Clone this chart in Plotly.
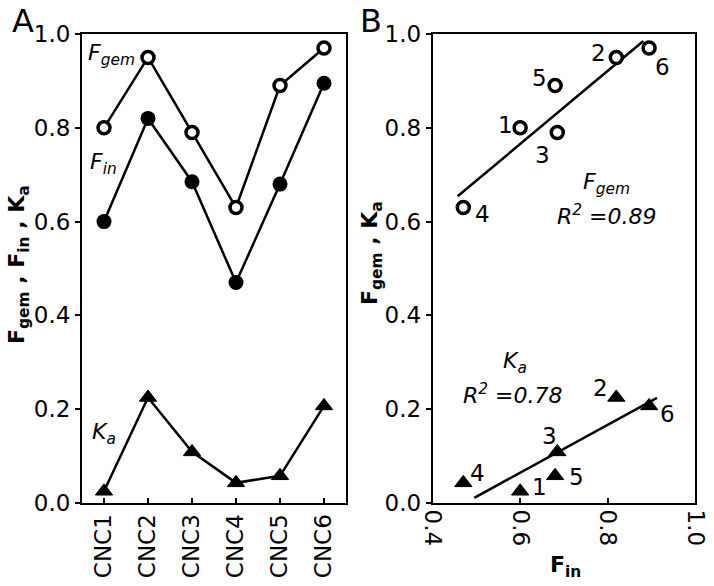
import plotly.graph_objects as go
from plotly.subplots import make_subplots

# data
samples = ['CNC1', 'CNC2', 'CNC3', 'CNC4', 'CNC5', 'CNC6']
sample_ids = ['1', '2', '3', '4', '5', '6']
f_gem = [0.80, 0.95, 0.79, 0.63, 0.89, 0.97]
f_in = [0.60, 0.82, 0.685, 0.47, 0.68, 0.895]
k_a = [0.025, 0.225, 0.109, 0.043, 0.058, 0.207]

# fitted lines (end points as drawn)
fgem_fit_x = [0.457, 0.882]
fgem_fit_y = [0.654, 0.985]
ka_fit_x = [0.495, 0.913]
ka_fit_y = [0.011, 0.224]

r2_fgem = '0.89'
r2_ka = '0.78'

FONT = 'DejaVu Sans'
LW = 2.5

open_circle = dict(symbol='circle', size=12, color='white', line=dict(color='black', width=3.5))
full_circle = dict(symbol='circle', size=15, color='black')
triangle = dict(symbol='triangle-up', size=15, color='black', line=dict(color='black', width=1))

fig = make_subplots(rows=1, cols=2)

# panel A
fig.add_trace(go.Scatter(x=samples, y=f_gem, mode='lines+markers', marker=open_circle,
                         line=dict(color='black', width=LW)), row=1, col=1)
fig.add_trace(go.Scatter(x=samples, y=f_in, mode='lines+markers', marker=full_circle,
                         line=dict(color='black', width=LW)), row=1, col=1)
fig.add_trace(go.Scatter(x=samples, y=k_a, mode='lines+markers', marker=triangle,
                         line=dict(color='black', width=LW)), row=1, col=1)

# panel B
fig.add_trace(go.Scatter(x=fgem_fit_x, y=fgem_fit_y, mode='lines',
                         line=dict(color='black', width=LW)), row=1, col=2)
fig.add_trace(go.Scatter(x=ka_fit_x, y=ka_fit_y, mode='lines',
                         line=dict(color='black', width=LW)), row=1, col=2)
fig.add_trace(go.Scatter(x=f_in, y=f_gem, mode='markers', marker=open_circle), row=1, col=2)
fig.add_trace(go.Scatter(x=f_in, y=k_a, mode='markers', marker=triangle), row=1, col=2)

axis_style = dict(showline=True, linecolor='black', linewidth=2, mirror=True, automargin=False,
                  showgrid=False, zeroline=False, ticklen=5, tickwidth=2, tickcolor='black',
                  tickfont=dict(family=FONT, size=23, color='black'))

fig.update_xaxes(axis_style)
fig.update_yaxes(axis_style)
fig.update_yaxes(range=[0, 1.0], dtick=0.2, tickformat='.1f', ticks='outside',
                 domain=[1 - 503 / 586, 1 - 34 / 586])
fig.update_xaxes(ticks='inside')
fig.update_xaxes(range=[-0.5, 5.5], tickangle=-90, domain=[82 / 714, 346 / 714], row=1, col=1)
fig.update_xaxes(range=[0.4, 1.0], dtick=0.2, tickformat='.1f', tickangle=90,
                 domain=[432.7 / 714, 695 / 714], row=1, col=2)

ann = []
# panel letters
ann.append(dict(text='A', x=10 / 714, y=1 - 21 / 586, xref='paper', yref='paper',
                xanchor='left', yanchor='middle', font=dict(size=32)))
ann.append(dict(text='B', x=358 / 714, y=1 - 21 / 586, xref='paper', yref='paper',
                xanchor='left', yanchor='middle', font=dict(size=32)))
# axis titles
ann.append(dict(text='<b>F<sub>gem</sub> , F<sub>in</sub> , K<sub>a</sub></b>', textangle=-90,
                x=18 / 714, y=1 - 265 / 586, xref='paper', yref='paper',
                xanchor='center', yanchor='middle', font=dict(size=22)))
ann.append(dict(text='<b>F<sub>gem</sub> , K<sub>a</sub></b>', textangle=-90,
                x=371 / 714, y=1 - 253 / 586, xref='paper', yref='paper',
                xanchor='center', yanchor='middle', font=dict(size=22)))
ann.append(dict(text='<b>F<sub>in</sub></b>', x=565 / 714, y=1 - 566 / 586,
                xref='paper', yref='paper', xanchor='center', yanchor='middle',
                font=dict(size=22)))

# series labels in A
for txt, xd, yd in [('<i>F<sub>gem</sub></i>', 0.015, 0.957),
                    ('<i>F<sub>in</sub></i>', 0.023, 0.723),
                    ('<i>K<sub>a</sub></i>', 0.030, 0.149)]:
    ann.append(dict(text=txt, x=xd, y=yd, xref='x domain', yref='y domain',
                    xanchor='left', yanchor='middle', font=dict(size=22)))

# labels in B
for txt, xd, yd in [('<i>F<sub>gem</sub></i>', 0.661, 0.682),
                    ('<i>R<sup>2</sup> =' + r2_fgem + '</i>', 0.663, 0.615),
                    ('<i>K<sub>a</sub></i>', 0.314, 0.299),
                    ('<i>R<sup>2</sup> =' + r2_ka + '</i>', 0.308, 0.232)]:
    ann.append(dict(text=txt, x=xd, y=yd, xref='x2 domain', yref='y2 domain',
                    xanchor='center', yanchor='middle', font=dict(size=22)))

# point numbers in B (pixel offsets from each point)
fgem_shift = [(-15, 3), (-18, 4), (-15, -23), (19, -6), (-16, 8), (13, -19)]
ka_shift = [(19, 4), (-16, 9), (-8, 16), (14, 10), (21, -1), (18, -8)]
for i, sid in enumerate(sample_ids):
    ann.append(dict(text=sid, x=f_in[i], y=f_gem[i], xref='x2', yref='y2',
                    xshift=fgem_shift[i][0], yshift=fgem_shift[i][1], font=dict(size=23)))
    ann.append(dict(text=sid, x=f_in[i], y=k_a[i], xref='x2', yref='y2',
                    xshift=ka_shift[i][0], yshift=ka_shift[i][1], font=dict(size=23)))

for a in ann:
    a['showarrow'] = False

fig.update_layout(
    width=714, height=586,
    margin=dict(l=0, r=0, t=0, b=0, pad=0, autoexpand=False),
    showlegend=False,
    plot_bgcolor='white', paper_bgcolor='white',
    font=dict(family=FONT, color='black'),
    annotations=ann,
)

fig.write_html('out.html', config={'displayModeBar': False},
               post_script="document.body.style.margin='0';")
